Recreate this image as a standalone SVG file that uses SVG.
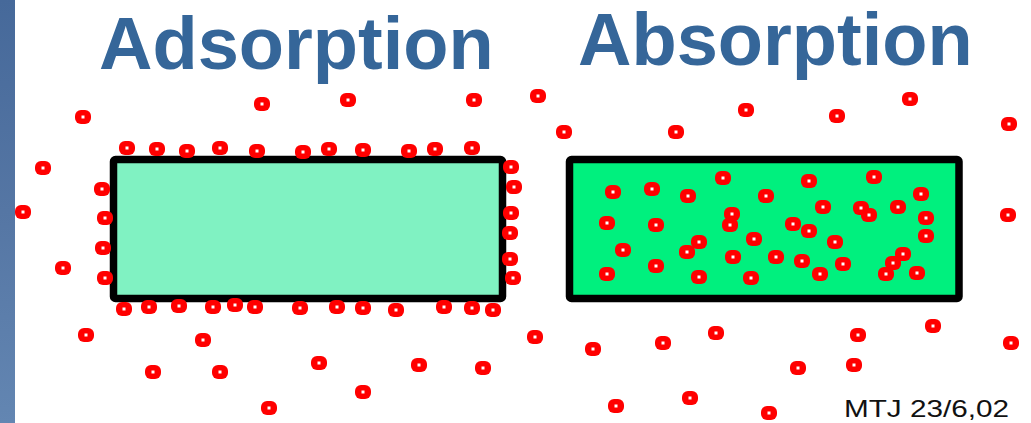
<svg xmlns="http://www.w3.org/2000/svg" xmlns:xlink="http://www.w3.org/1999/xlink" width="1031" height="423" viewBox="0 0 1031 423">
  <style>
    .title { font-family: "Liberation Sans", Arial, sans-serif; font-weight: bold; font-size: 74px; fill: #356699; }
    .credit { font-family: "Liberation Sans", Arial, sans-serif; font-size: 24px; fill: #111111; }
    .box { stroke: #000000; stroke-width: 7.5; stroke-linejoin: round; }
  </style>
  <defs>
    <linearGradient id="strip" x1="0" y1="0" x2="0" y2="1">
      <stop offset="0" stop-color="#46699a"/>
      <stop offset="0.5" stop-color="#5576a4"/>
      <stop offset="1" stop-color="#6386b2"/>
    </linearGradient>
    <!-- one particle: red rounded blob with a white core -->
    <g id="dot">
      <rect x="-8" y="-7" width="16" height="14" rx="6" ry="6" fill="#ff0000"/>
      <rect x="-1.5" y="-1.5" width="3" height="3" fill="#ffffff"/>
    </g>
  </defs>

  <rect width="1031" height="423" fill="#ffffff"/>
  <rect x="0" y="0" width="15" height="423" fill="url(#strip)"/>

  <text class="title" x="99" y="69">Adsorption</text>
  <text class="title" x="578" y="65">Absorption</text>

  <!-- adsorbent: particles gather on the surface -->
  <g id="adsorbent">
    <rect class="box" x="113.5" y="159.5" width="389" height="139" rx="2" fill="#80f2c2"/>
  </g>

  <!-- absorbent: particles taken into the bulk -->
  <g id="absorbent">
    <rect class="box" x="569.5" y="159.5" width="389.5" height="139" rx="2" fill="#00f07e"/>
  </g>

  <g id="particles-free">
    <use xlink:href="#dot" x="83" y="117"/>
    <use xlink:href="#dot" x="262" y="104"/>
    <use xlink:href="#dot" x="348" y="100"/>
    <use xlink:href="#dot" x="474" y="100"/>
    <use xlink:href="#dot" x="538" y="96"/>
    <use xlink:href="#dot" x="564" y="132"/>
    <use xlink:href="#dot" x="676" y="132"/>
    <use xlink:href="#dot" x="746" y="110"/>
    <use xlink:href="#dot" x="837" y="116"/>
    <use xlink:href="#dot" x="910" y="99"/>
    <use xlink:href="#dot" x="1009" y="124"/>
    <use xlink:href="#dot" x="43" y="168"/>
    <use xlink:href="#dot" x="23" y="212"/>
    <use xlink:href="#dot" x="63" y="268"/>
    <use xlink:href="#dot" x="86" y="335"/>
    <use xlink:href="#dot" x="1008" y="215"/>
    <use xlink:href="#dot" x="203" y="340"/>
    <use xlink:href="#dot" x="319" y="363"/>
    <use xlink:href="#dot" x="153" y="372"/>
    <use xlink:href="#dot" x="220" y="372"/>
    <use xlink:href="#dot" x="269" y="408"/>
    <use xlink:href="#dot" x="535" y="337"/>
    <use xlink:href="#dot" x="593" y="349"/>
    <use xlink:href="#dot" x="663" y="343"/>
    <use xlink:href="#dot" x="419" y="365"/>
    <use xlink:href="#dot" x="483" y="368"/>
    <use xlink:href="#dot" x="363" y="392"/>
    <use xlink:href="#dot" x="616" y="406"/>
    <use xlink:href="#dot" x="690" y="398"/>
    <use xlink:href="#dot" x="716" y="333"/>
    <use xlink:href="#dot" x="858" y="335"/>
    <use xlink:href="#dot" x="933" y="326"/>
    <use xlink:href="#dot" x="1011" y="343"/>
    <use xlink:href="#dot" x="798" y="368"/>
    <use xlink:href="#dot" x="854" y="365"/>
    <use xlink:href="#dot" x="769" y="413"/>
  </g>

  <g id="particles-surface">
    <use xlink:href="#dot" x="127" y="148"/>
    <use xlink:href="#dot" x="157" y="149"/>
    <use xlink:href="#dot" x="187" y="151"/>
    <use xlink:href="#dot" x="220" y="148"/>
    <use xlink:href="#dot" x="257" y="151"/>
    <use xlink:href="#dot" x="303" y="152"/>
    <use xlink:href="#dot" x="329" y="149"/>
    <use xlink:href="#dot" x="363" y="150"/>
    <use xlink:href="#dot" x="409" y="151"/>
    <use xlink:href="#dot" x="435" y="149"/>
    <use xlink:href="#dot" x="472" y="148"/>
    <use xlink:href="#dot" x="102" y="189"/>
    <use xlink:href="#dot" x="105" y="218"/>
    <use xlink:href="#dot" x="103" y="248"/>
    <use xlink:href="#dot" x="105" y="278"/>
    <use xlink:href="#dot" x="511" y="167"/>
    <use xlink:href="#dot" x="514" y="187"/>
    <use xlink:href="#dot" x="511" y="213"/>
    <use xlink:href="#dot" x="510" y="233"/>
    <use xlink:href="#dot" x="510" y="259"/>
    <use xlink:href="#dot" x="513" y="278"/>
    <use xlink:href="#dot" x="124" y="309"/>
    <use xlink:href="#dot" x="149" y="307"/>
    <use xlink:href="#dot" x="179" y="306"/>
    <use xlink:href="#dot" x="213" y="307"/>
    <use xlink:href="#dot" x="235" y="305"/>
    <use xlink:href="#dot" x="255" y="307"/>
    <use xlink:href="#dot" x="300" y="308"/>
    <use xlink:href="#dot" x="337" y="307"/>
    <use xlink:href="#dot" x="363" y="308"/>
    <use xlink:href="#dot" x="396" y="310"/>
    <use xlink:href="#dot" x="444" y="307"/>
    <use xlink:href="#dot" x="472" y="308"/>
    <use xlink:href="#dot" x="493" y="310"/>
  </g>

  <g id="particles-bulk">
    <use xlink:href="#dot" x="613" y="192"/>
    <use xlink:href="#dot" x="652" y="189"/>
    <use xlink:href="#dot" x="688" y="196"/>
    <use xlink:href="#dot" x="723" y="178"/>
    <use xlink:href="#dot" x="809" y="181"/>
    <use xlink:href="#dot" x="874" y="177"/>
    <use xlink:href="#dot" x="766" y="196"/>
    <use xlink:href="#dot" x="921" y="194"/>
    <use xlink:href="#dot" x="607" y="223"/>
    <use xlink:href="#dot" x="656" y="225"/>
    <use xlink:href="#dot" x="732" y="214"/>
    <use xlink:href="#dot" x="730" y="225"/>
    <use xlink:href="#dot" x="823" y="207"/>
    <use xlink:href="#dot" x="861" y="208"/>
    <use xlink:href="#dot" x="869" y="215"/>
    <use xlink:href="#dot" x="898" y="207"/>
    <use xlink:href="#dot" x="926" y="218"/>
    <use xlink:href="#dot" x="793" y="224"/>
    <use xlink:href="#dot" x="809" y="231"/>
    <use xlink:href="#dot" x="926" y="236"/>
    <use xlink:href="#dot" x="754" y="239"/>
    <use xlink:href="#dot" x="835" y="242"/>
    <use xlink:href="#dot" x="699" y="242"/>
    <use xlink:href="#dot" x="687" y="252"/>
    <use xlink:href="#dot" x="623" y="250"/>
    <use xlink:href="#dot" x="656" y="266"/>
    <use xlink:href="#dot" x="607" y="274"/>
    <use xlink:href="#dot" x="733" y="257"/>
    <use xlink:href="#dot" x="776" y="257"/>
    <use xlink:href="#dot" x="802" y="261"/>
    <use xlink:href="#dot" x="843" y="264"/>
    <use xlink:href="#dot" x="903" y="254"/>
    <use xlink:href="#dot" x="893" y="263"/>
    <use xlink:href="#dot" x="886" y="274"/>
    <use xlink:href="#dot" x="917" y="273"/>
    <use xlink:href="#dot" x="699" y="277"/>
    <use xlink:href="#dot" x="751" y="278"/>
    <use xlink:href="#dot" x="820" y="274"/>
  </g>

  <text class="credit" x="844" y="417" textLength="165" lengthAdjust="spacingAndGlyphs">MTJ 23/6,02</text>
</svg>
